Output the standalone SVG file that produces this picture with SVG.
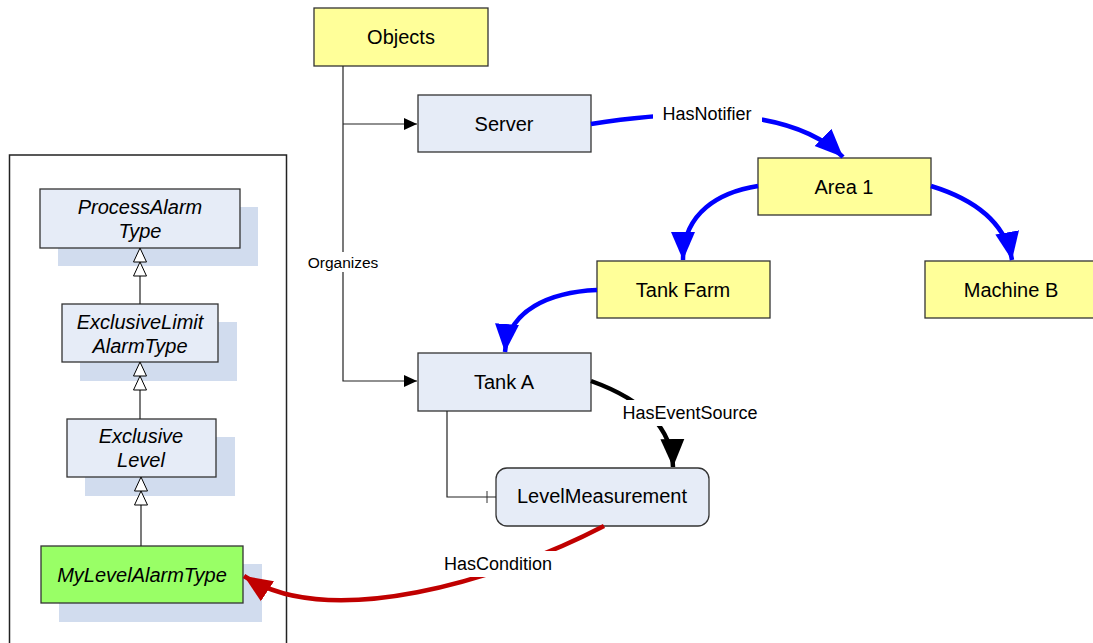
<svg xmlns="http://www.w3.org/2000/svg" width="1093" height="643" viewBox="0 0 1093 643">
<style>
text{font-family:"Liberation Sans",Arial,sans-serif;fill:#000;text-anchor:middle;dominant-baseline:central}
.node{font-size:20px}
.lbl{font-size:18px}
.it{font-size:20px;font-style:italic}
.yel{fill:#FFFF99;stroke:#333;stroke-width:1.3}
.blu{fill:#E6ECF7;stroke:#333;stroke-width:1.3}
.shd{fill:#D1DCEE}
.thin{fill:none;stroke:#222;stroke-width:1.2}
.bl{fill:none;stroke:#0000FF;stroke-width:4.5}
.bk{fill:none;stroke:#000;stroke-width:4.5}
.rd{fill:none;stroke:#C00000;stroke-width:4.5}
.bg{fill:#fff}
</style>
<defs>
<marker id="aSm" markerUnits="userSpaceOnUse" markerWidth="14" markerHeight="14" viewBox="0 0 14 14" refX="13" refY="7" orient="auto"><path d="M0,1 L13,7 L0,13 z" fill="#000"/></marker>
<marker id="aB" markerUnits="userSpaceOnUse" markerWidth="30" markerHeight="30" viewBox="0 0 30 30" refX="28" refY="15" orient="auto"><path d="M0,3 L28,15 L0,27 z" fill="#0000FF"/></marker>
<marker id="aK" markerUnits="userSpaceOnUse" markerWidth="30" markerHeight="30" viewBox="0 0 30 30" refX="28" refY="15" orient="auto"><path d="M0,3 L28,15 L0,27 z" fill="#000"/></marker>
<marker id="aR" markerUnits="userSpaceOnUse" markerWidth="30" markerHeight="30" viewBox="0 0 30 30" refX="28" refY="15" orient="auto"><path d="M0,3 L28,15 L0,27 z" fill="#C00000"/></marker>
<marker id="tick" markerUnits="userSpaceOnUse" markerWidth="12" markerHeight="14" viewBox="0 0 12 14" refX="10" refY="7" orient="auto"><path d="M1,1 L1,13" stroke="#333" stroke-width="1"/></marker>
<path id="dtri" d="M0,0 L-6.5,14 L6.5,14 z M0,14 L-6.5,28 L6.5,28 z" fill="#fff" stroke="#000" stroke-width="1"/>
</defs>

<rect x="9.5" y="155" width="277" height="500" fill="none" stroke="#222" stroke-width="1.5"/>

<g id="processalarmtype">
<rect x="58" y="207" width="200" height="59" class="shd"/>
<rect x="40" y="189" width="200" height="59" class="blu"/>
<text x="140" y="207" class="it">ProcessAlarm</text>
<text x="140" y="231" class="it">Type</text>
</g>
<g id="exclusivelimitalarmtype">
<rect x="80" y="322" width="157" height="59" class="shd"/>
<rect x="62" y="304" width="156" height="58" class="blu"/>
<text x="140" y="322" class="it">ExclusiveLimit</text>
<text x="140" y="346" class="it">AlarmType</text>
</g>
<g id="exclusivelevel">
<rect x="85" y="437" width="150" height="59" class="shd"/>
<rect x="67" y="419" width="149" height="58" class="blu"/>
<text x="141" y="436" class="it">Exclusive</text>
<text x="141" y="460" class="it">Level</text>
</g>
<g id="mylevelalarmtype">
<rect x="59" y="564" width="203" height="58" class="shd"/>
<rect x="41" y="546" width="202" height="57" fill="#99FF66" stroke="#333" stroke-width="1.3"/>
<text x="142" y="575" class="it">MyLevelAlarmType</text>
</g>

<g id="objects">
<rect x="314" y="8" width="174" height="58" class="yel"/>
<text x="401" y="37" class="node">Objects</text>
</g>
<g id="server">
<rect x="418" y="95" width="173" height="57" class="blu"/>
<text x="504" y="124" class="node">Server</text>
</g>
<g id="area1">
<rect x="758" y="158" width="173" height="57" class="yel"/>
<text x="844" y="187" class="node">Area 1</text>
</g>
<g id="tankfarm">
<rect x="597" y="261" width="173" height="57" class="yel"/>
<text x="683" y="290" class="node">Tank Farm</text>
</g>
<g id="machineb">
<rect x="925" y="261" width="173" height="57" class="yel"/>
<text x="1011" y="290" class="node">Machine B</text>
</g>
<g id="tanka">
<rect x="418" y="353" width="173" height="58" class="blu"/>
<text x="504" y="382" class="node">Tank A</text>
</g>
<g id="levelmeasurement">
<rect x="496" y="468" width="213" height="58" rx="11" class="blu"/>
<text x="602" y="496" class="node">LevelMeasurement</text>
</g>

<g id="connectors">
<!-- inheritance -->
<line x1="140" y1="276" x2="140" y2="304" class="thin"/>
<use href="#dtri" x="140" y="248"/>
<line x1="140" y1="390" x2="140" y2="419" class="thin"/>
<use href="#dtri" x="140" y="362"/>
<line x1="141" y1="505" x2="141" y2="546" class="thin"/>
<use href="#dtri" x="141" y="477"/>
<!-- organizes -->
<path d="M343,66 V381 H417" class="thin" marker-end="url(#aSm)"/>
<path d="M343,124 H417" class="thin" marker-end="url(#aSm)"/>
<rect x="304" y="252" width="78" height="20" class="bg"/>
<text x="343" y="262" style="font-size:15.5px">Organizes</text>
<!-- Tank A to LevelMeasurement -->
<path d="M447,411 V497 H496" class="thin" marker-end="url(#tick)"/>
<!-- HasNotifier -->
<path d="M591,124 C680,110 790,105 843,157" class="bl" marker-end="url(#aB)"/>
<rect x="653" y="103" width="109" height="24" class="bg"/>
<text x="707" y="114" class="lbl">HasNotifier</text>
<!-- Area1 to Tank Farm -->
<path d="M758,186 C720,192 683,212 683,260" class="bl" marker-end="url(#aB)"/>
<!-- Area1 to Machine B -->
<path d="M931,186 C970,198 1005,220 1012,260" class="bl" marker-end="url(#aB)"/>
<!-- Tank Farm to Tank A -->
<path d="M597,290 C550,292 508,310 505,352" class="bl" marker-end="url(#aB)"/>
<!-- HasEventSource -->
<path d="M591,381 C630,395 672,420 673,467" class="bk" marker-end="url(#aK)"/>
<rect x="620" y="400" width="140" height="26" class="bg"/>
<text x="690" y="413" class="lbl">HasEventSource</text>
<!-- HasCondition -->
<path d="M604,526 C500,580 330,632 244,576" class="rd" marker-end="url(#aR)"/>
<rect x="440" y="551" width="116" height="26" class="bg"/>
<text x="498" y="564" class="lbl">HasCondition</text>
</g>
</svg>
